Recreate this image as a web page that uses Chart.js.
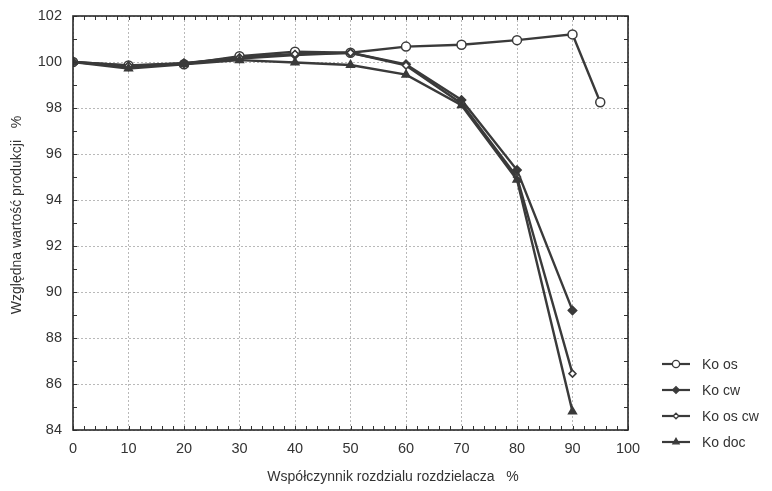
<!DOCTYPE html>
<html><head><meta charset="utf-8">
<script src="https://cdn.jsdelivr.net/npm/chart.js@4"></script>
<style>html,body{margin:0;padding:0;background:#fff}#wrap{width:772px;height:491px}</style>
</head><body><div id="wrap"><canvas id="c"></canvas></div>
<script>
const xKoOs = [0,10,20,30,40,50,60,70,80,90,95];
const koOs = [100,99.85,99.9,100.25,100.45,100.4,100.67,100.75,100.95,101.2,98.25];
const xOthers = [0,10,20,30,40,50,60,70,80,90];
const koCw = [100,99.8,99.95,100.15,100.3,100.4,99.9,98.35,95.3,89.2];
const koOsCw = [100,99.85,99.95,100.2,100.35,100.4,99.85,98.2,95.0,86.45];
const koDoc = [100,99.72,99.9,100.08,99.98,99.87,99.45,98.12,94.88,84.8];
const xTicks = [0,10,20,30,40,50,60,70,80,90,100];
const yTicks = [84,86,88,90,92,94,96,98,100,102];
const seriesNames = ['Ko os','Ko cw','Ko os cw','Ko doc'];

const LINE = '#3a3a3a';
function pts(xs, ys){ return xs.map((x,i)=>({x:x,y:ys[i]})); }
function ds(label, xs, ys, style, fill, r){
  return {label:label, data:pts(xs,ys), borderColor:LINE, borderWidth:2.4,
    pointStyle:style, pointBackgroundColor:fill, pointBorderColor:LINE,
    pointBorderWidth:1.5, pointRadius:r, tension:0};
}
const datasets = [
  ds(seriesNames[3], xOthers, koDoc, 'triangle', LINE, 4.5),
  ds(seriesNames[2], xOthers, koOsCw, 'rectRot', '#fff', 3.5),
  ds(seriesNames[1], xOthers, koCw, 'rectRot', LINE, 4.2),
  ds(seriesNames[0], xKoOs, koOs, 'circle', '#fff', 4.5)
];

const deco = {
  id:'deco',
  afterDraw(chart){
    const ctx = chart.ctx, a = chart.chartArea, xs = chart.scales.x, ys = chart.scales.y;
    ctx.save();
    ctx.strokeStyle = '#333'; ctx.lineWidth = 1;
    for(let v=0; v<=100; v+=2){
      const p = Math.round(xs.getPixelForValue(v))+0.5;
      ctx.beginPath(); ctx.moveTo(p,a.bottom); ctx.lineTo(p,a.bottom-4);
      ctx.moveTo(p,a.top); ctx.lineTo(p,a.top+4); ctx.stroke();
    }
    for(let v=84; v<=102; v+=1){
      const p = Math.round(ys.getPixelForValue(v))+0.5;
      ctx.beginPath(); ctx.moveTo(a.left,p); ctx.lineTo(a.left+4,p);
      ctx.moveTo(a.right,p); ctx.lineTo(a.right-4,p); ctx.stroke();
    }
    ctx.lineWidth = 1.6; ctx.strokeStyle='#2a2a2a';
    ctx.strokeRect(a.left, a.top, a.right-a.left, a.bottom-a.top);
    // axis titles
    ctx.fillStyle = '#333';
    ctx.font = '14px "Liberation Sans", Arial, sans-serif';
    ctx.textAlign='center'; ctx.textBaseline='middle';
    ctx.fillText('Współczynnik rozdzialu rozdzielacza   %', 393, 477);
    ctx.save(); ctx.translate(17, 215); ctx.rotate(-Math.PI/2);
    ctx.fillText('Względna wartość produkcji   %', 0, 0); ctx.restore();
    // legend
    const order = [3,2,1,0];
    const ly = [364,390,416,442];
    order.forEach((di,i)=>{
      const d = chart.data.datasets[di];
      const y = ly[i];
      ctx.strokeStyle = LINE; ctx.lineWidth = 2.2;
      ctx.beginPath(); ctx.moveTo(662,y); ctx.lineTo(690,y); ctx.stroke();
      ctx.fillStyle = d.pointBackgroundColor; ctx.strokeStyle = LINE; ctx.lineWidth = 1.3;
      Chart.helpers.drawPoint(ctx, {pointStyle:d.pointStyle, radius:d.pointRadius*0.8, borderWidth:1.3}, 676, y);
      ctx.fillStyle = '#333'; ctx.textAlign='left';
      ctx.font = '14px "Liberation Sans", Arial, sans-serif';
      ctx.fillText(d.label, 702, y+1);
    });
    ctx.restore();
  }
};

new Chart(document.getElementById('c'), {
  type:'line',
  data:{datasets:datasets},
  options:{
    responsive:true, maintainAspectRatio:false, animation:false,
    layout:{padding:{left:0,right:144,top:16,bottom:0}},
    plugins:{legend:{display:false}, tooltip:{enabled:false}},
    scales:{
      x:{type:'linear', min:0, max:100,
        afterBuildTicks(s){ s.ticks = xTicks.map(v=>({value:v})); },
        afterFit(s){ s.height = 491-430; },
        grid:{color:'#a8a8a8', lineWidth:0.8, drawTicks:false},
        border:{display:false, dash:[2,2]},
        ticks:{color:'#333', padding:10, maxRotation:0, font:{family:'"Liberation Sans", Arial, sans-serif', size:14.5}}
      },
      y:{type:'linear', min:84, max:102,
        afterBuildTicks(s){ s.ticks = yTicks.map(v=>({value:v})); },
        afterFit(s){ s.width = 73; s.paddingTop = 0; s.paddingBottom = 0; },
        grid:{color:'#a8a8a8', lineWidth:0.8, drawTicks:false},
        border:{display:false, dash:[2,2]},
        ticks:{color:'#333', padding:11, font:{family:'"Liberation Sans", Arial, sans-serif', size:14.5}}
      }
    }
  },
  plugins:[deco]
});
</script></body></html>
